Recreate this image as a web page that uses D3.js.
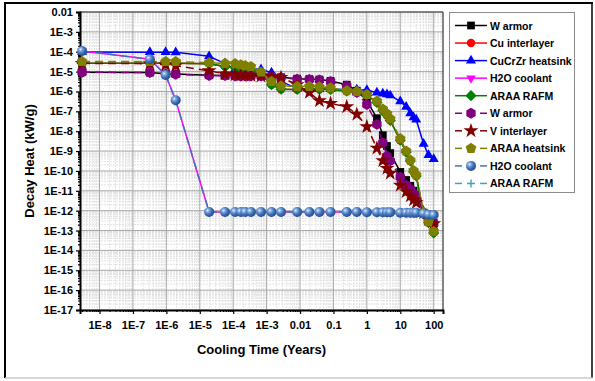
<!DOCTYPE html>
<html>
<head>
<meta charset="utf-8">
<script src="https://cdn.jsdelivr.net/npm/d3@7"></script>
<style>
  body { margin: 0; background: #fff; }
  text { font-family: "Liberation Sans", Arial, sans-serif; font-weight: bold; fill: #000; }
</style>
</head>
<body>
<svg id="chart" width="595" height="381"></svg>
<script>
// Cooling times (years) after shutdown
const timesYears = [3e-9, 3.2e-7, 9.5e-7, 1.9e-6, 1.9e-5, 5.7e-5, 1.14e-4, 1.7e-4, 2.3e-4, 3.4e-4,
  6.8e-4, 1.4e-3, 2.7e-3, 8.2e-3, 1.9e-2, 3.8e-2, 8.2e-2, 0.25, 0.5, 1,
  2, 3, 4, 5, 10, 15, 20, 25, 30, 50, 70, 100];

// Decay heat (kW/g) – first design (solid lines)
const wArmorA = [9.3e-6, 8.9e-6, 7.9e-6, 7.6e-6, 6.6e-6, 6.3e-6, 6.3e-6, 6.3e-6, 6.3e-6, 6.3e-6,
  6.0e-6, 5.8e-6, 5.2e-6, 4.4e-6, 4.2e-6, 4.0e-6, 3.4e-6, 2.2e-6, 1.1e-6, 3.5e-7,
  4.5e-8, 6.3e-9, 1.8e-9, 7.9e-10, 8.9e-11, 3.5e-11, 1.8e-11, 1.0e-11, 6.3e-12, 7.9e-13, 4.0e-13, 2.4e-13];
const cuInterlayer = [2.6e-5, 2.6e-5, 2.6e-5, 2.6e-5, 2.5e-5, 1.8e-5, 1.6e-5, 1.4e-5, 1.3e-5, 1.1e-5,
  7.1e-6, 2.2e-6, 1.3e-6, 1.26e-6, 1.3e-6, 1.3e-6, 1.26e-6, 1.05e-6, 9.3e-7, 6.3e-7,
  2.8e-7, 1.1e-7, 6.3e-8, 3.5e-8, 3.5e-9, 8.9e-10, 3.2e-10, 9.1e-11, 5.6e-11, 7.1e-13, 2.5e-13, 7.6e-14];
const cucrzrHeatsink = [9.8e-5, 9.5e-5, 9.5e-5, 9.3e-5, 5.9e-5, 2.5e-5, 1.3e-5, 1.3e-5, 1.3e-5, 1.4e-5,
  1.3e-5, 8.9e-6, 3.2e-6, 1.4e-6, 1.35e-6, 1.3e-6, 1.3e-6, 1.26e-6, 1.23e-6, 1.17e-6,
  8.7e-7, 7.9e-7, 7.1e-7, 6.3e-7, 3.2e-7, 1.7e-7, 7.9e-8, 5.0e-8, 3.8e-8, 2.3e-9, 6.3e-10, 4.0e-10];
const h2oCoolantA = [1.1e-4, 4.2e-5, 6.8e-6, 3.6e-7, 8.6e-13, 8.6e-13, 8.6e-13, 8.6e-13, 8.6e-13, 8.6e-13,
  8.6e-13, 8.6e-13, 8.6e-13, 8.6e-13, 8.6e-13, 8.6e-13, 8.6e-13, 8.6e-13, 8.6e-13, 8.3e-13,
  8.3e-13, 8.3e-13, 8.3e-13, 8.3e-13, 7.9e-13, 7.9e-13, 7.9e-13, 7.9e-13, 7.9e-13, 7.1e-13, 6.3e-13, 6.0e-13];
const araaRafmA = [2.6e-5, 2.6e-5, 2.6e-5, 2.6e-5, 2.5e-5, 1.8e-5, 1.6e-5, 1.4e-5, 1.3e-5, 1.1e-5,
  7.1e-6, 2.2e-6, 1.3e-6, 1.26e-6, 1.3e-6, 1.3e-6, 1.26e-6, 1.05e-6, 9.3e-7, 6.3e-7,
  2.8e-7, 1.1e-7, 6.3e-8, 3.5e-8, 3.5e-9, 8.9e-10, 3.2e-10, 9.1e-11, 5.6e-11, 7.1e-13, 2.5e-13, 7.6e-14];

// Decay heat (kW/g) – second design (dashed lines)
const wArmorB = [9.3e-6, 8.9e-6, 7.6e-6, 7.2e-6, 6.3e-6, 6.2e-6, 6.0e-6, 6.0e-6, 6.0e-6, 6.0e-6,
  5.9e-6, 5.6e-6, 5.0e-6, 4.2e-6, 4.1e-6, 3.8e-6, 3.2e-6, 1.9e-6, 8.9e-7, 2.2e-7,
  2.2e-8, 2.6e-9, 5.6e-10, 3.2e-10, 4.8e-11, 1.9e-11, 1.2e-11, 6.9e-12, 5.0e-12, 7.9e-13, 4.0e-13, 2.2e-13];
const vInterlayer = [2.6e-5, 2.5e-5, 2.2e-5, 2.0e-5, 1.1e-5, 7.6e-6, 6.8e-6, 6.6e-6, 6.5e-6, 6.3e-6,
  6.0e-6, 5.6e-6, 5.1e-6, 2.2e-6, 8.9e-7, 3.4e-7, 2.5e-7, 1.7e-7, 7.1e-8, 1.7e-8,
  1.4e-9, 3.3e-10, 1.35e-10, 7.6e-11, 1.9e-11, 9.1e-12, 5.5e-12, 3.5e-12, 2.5e-12, 7.9e-13, 3.5e-13, 2.2e-13];
const araaHeatsink = [3.2e-5, 3.2e-5, 3.2e-5, 3.2e-5, 2.8e-5, 2.6e-5, 2.5e-5, 2.2e-5, 2.0e-5, 1.8e-5,
  9.5e-6, 3.2e-6, 1.9e-6, 1.8e-6, 1.8e-6, 1.7e-6, 1.5e-6, 1.1e-6, 1.0e-6, 7.1e-7,
  3.3e-7, 1.3e-7, 7.6e-8, 4.2e-8, 4.2e-9, 1.0e-9, 3.5e-10, 1.05e-10, 6.3e-11, 7.9e-13, 2.8e-13, 8.9e-14];
const h2oCoolantB = [1.1e-4, 4.2e-5, 6.8e-6, 3.6e-7, 8.6e-13, 8.6e-13, 8.6e-13, 8.6e-13, 8.6e-13, 8.6e-13,
  8.6e-13, 8.6e-13, 8.6e-13, 8.6e-13, 8.6e-13, 8.6e-13, 8.6e-13, 8.6e-13, 8.6e-13, 8.3e-13,
  8.3e-13, 8.3e-13, 8.3e-13, 8.3e-13, 7.9e-13, 7.9e-13, 7.9e-13, 7.9e-13, 7.9e-13, 7.1e-13, 6.3e-13, 6.0e-13];
const araaRafmB = [2.6e-5, 2.6e-5, 2.6e-5, 2.6e-5, 2.5e-5, 1.8e-5, 1.6e-5, 1.4e-5, 1.3e-5, 1.1e-5,
  7.1e-6, 2.2e-6, 1.3e-6, 1.26e-6, 1.3e-6, 1.3e-6, 1.26e-6, 1.05e-6, 9.3e-7, 6.3e-7,
  2.8e-7, 1.1e-7, 6.3e-8, 3.5e-8, 3.5e-9, 8.9e-10, 3.2e-10, 9.1e-11, 5.6e-11, 7.1e-13, 2.5e-13, 7.6e-14];

// Axis ticks
const xTickExponents = [-8, -7, -6, -5, -4, -3, -2, -1, 0, 1, 2];
const xTickLabels = ["1E-8", "1E-7", "1E-6", "1E-5", "1E-4", "1E-3", "0.01", "0.1", "1", "10", "100"];
const yTickExponents = [-2, -3, -4, -5, -6, -7, -8, -9, -10, -11, -12, -13, -14, -15, -16, -17];
const yTickLabels = ["0.01", "1E-3", "1E-4", "1E-5", "1E-6", "1E-7", "1E-8", "1E-9", "1E-10",
  "1E-11", "1E-12", "1E-13", "1E-14", "1E-15", "1E-16", "1E-17"];

// Series table (legend order) with line/marker styling
const series = [
  { name: "W armor",          values: wArmorA,        color: "#000000", dashed: false, marker: "square" },
  { name: "Cu interlayer",    values: cuInterlayer,   color: "#ff0000", dashed: false, marker: "circle" },
  { name: "CuCrZr heatsink",  values: cucrzrHeatsink, color: "#0000ff", dashed: false, marker: "triUp" },
  { name: "H2O coolant",      values: h2oCoolantA,    color: "#ff00ff", dashed: false, marker: "triDown" },
  { name: "ARAA RAFM",        values: araaRafmA,      color: "#008000", dashed: false, marker: "diamond" },
  { name: "W armor",          values: wArmorB,        color: "#800080", dashed: true,  marker: "hexagon" },
  { name: "V interlayer",     values: vInterlayer,    color: "#800000", dashed: true,  marker: "star" },
  { name: "ARAA heatsink",    values: araaHeatsink,   color: "#808000", dashed: true,  marker: "pentagon" },
  { name: "H2O coolant",      values: h2oCoolantB,    color: "#3f74b8", dashed: true,  marker: "sphere" },
  { name: "ARAA RAFM",        values: araaRafmB,      color: "#3aa6b9", dashed: true,  marker: "plus" }
];
// painting order on the plot (later = on top)
const drawOrder = [9, 1, 0, 2, 3, 4, 5, 6, 7, 8];

const svg = d3.select("#chart");
const plot = { left: 80, right: 443, top: 12, bottom: 310 };

const x = d3.scaleLog().domain([2.6e-9, 190]).range([plot.left, plot.right]);
const y = d3.scaleLog().domain([1e-17, 1e-2]).range([plot.bottom, plot.top]);

// sphere gradient
const defs = svg.append("defs");
const grad = defs.append("radialGradient").attr("id", "sphereGrad")
  .attr("cx", "35%").attr("cy", "35%").attr("r", "70%");
grad.append("stop").attr("offset", "0%").attr("stop-color", "#eef4ff");
grad.append("stop").attr("offset", "22%").attr("stop-color", "#86aee2");
grad.append("stop").attr("offset", "60%").attr("stop-color", "#3b6db4");
grad.append("stop").attr("offset", "100%").attr("stop-color", "#234c8c");

// outer frame
svg.append("rect").attr("x", 0).attr("y", 0).attr("width", 595).attr("height", 381).attr("fill", "#fff");
svg.append("line").attr("x1", 5).attr("x2", 593).attr("y1", 3).attr("y2", 3).attr("stroke", "#000").attr("stroke-width", 2);
svg.append("line").attr("x1", 5).attr("x2", 5).attr("y1", 2).attr("y2", 378).attr("stroke", "#000").attr("stroke-width", 2);
svg.append("line").attr("x1", 592).attr("x2", 592).attr("y1", 2).attr("y2", 378).attr("stroke", "#000").attr("stroke-width", 1.5);
svg.append("line").attr("x1", 5).attr("x2", 593).attr("y1", 378).attr("y2", 378).attr("stroke", "#c8c8c8").attr("stroke-width", 1.5);

// minor/major tick values
function minorValues(scale) {
  const [d0, d1] = scale.domain();
  const out = [];
  for (let k = Math.floor(Math.log10(d0)) - 1; k <= Math.ceil(Math.log10(d1)); k++) {
    for (let m = 2; m <= 9; m++) {
      const v = m * Math.pow(10, k);
      if (v >= d0 && v <= d1) out.push(v);
    }
  }
  return out;
}
const xMajor = xTickExponents.map(e => Math.pow(10, e));
const yMajor = yTickExponents.map(e => Math.pow(10, e));
const xMinor = minorValues(x);
const yMinor = minorValues(y);

// grid
const grid = svg.append("g");
grid.selectAll(".gxm").data(xMinor).enter().append("line")
  .attr("x1", d => x(d)).attr("x2", d => x(d)).attr("y1", plot.top).attr("y2", plot.bottom)
  .attr("stroke", "#dadada").attr("stroke-width", 0.8).attr("stroke-dasharray", "2,1");
grid.selectAll(".gym").data(yMinor).enter().append("line")
  .attr("y1", d => y(d)).attr("y2", d => y(d)).attr("x1", plot.left).attr("x2", plot.right)
  .attr("stroke", "#dadada").attr("stroke-width", 0.8).attr("stroke-dasharray", "2,1");
grid.selectAll(".gxM").data(xMajor).enter().append("line")
  .attr("x1", d => x(d)).attr("x2", d => x(d)).attr("y1", plot.top).attr("y2", plot.bottom)
  .attr("stroke", "#a8a8a8").attr("stroke-width", 1);
grid.selectAll(".gyM").data(yMajor).enter().append("line")
  .attr("y1", d => y(d)).attr("y2", d => y(d)).attr("x1", plot.left).attr("x2", plot.right)
  .attr("stroke", "#a8a8a8").attr("stroke-width", 1);

// top/right frame
svg.append("line").attr("x1", plot.left).attr("x2", plot.right).attr("y1", plot.top).attr("y2", plot.top)
  .attr("stroke", "#333").attr("stroke-width", 1);
svg.append("line").attr("x1", plot.right).attr("x2", plot.right).attr("y1", plot.top).attr("y2", plot.bottom)
  .attr("stroke", "#333").attr("stroke-width", 1.2);

// axes
const xAxis = svg.append("g").attr("transform", `translate(0,${plot.bottom})`)
  .call(d3.axisBottom(x).tickValues(xMajor).tickSize(4).tickPadding(7)
    .tickFormat((d, i) => xTickLabels[i]));
svg.append("g").attr("transform", `translate(0,${plot.bottom})`)
  .call(d3.axisBottom(x).tickValues(xMinor).tickSize(2).tickFormat(""))
  .call(g => g.select(".domain").remove());
const yAxis = svg.append("g").attr("transform", `translate(${plot.left},0)`)
  .call(d3.axisLeft(y).tickValues(yMajor).tickSize(4).tickPadding(3)
    .tickFormat((d, i) => yTickLabels[i]));
svg.append("g").attr("transform", `translate(${plot.left},0)`)
  .call(d3.axisLeft(y).tickValues(yMinor).tickSize(2).tickFormat(""))
  .call(g => g.select(".domain").remove());

svg.selectAll(".tick line").attr("stroke", "#000").attr("stroke-width", 1.2);
[xAxis, yAxis].forEach(a => {
  a.select(".domain").attr("stroke", "#000").attr("stroke-width", 2);
  a.selectAll("text").style("font-size", "11px").style("font-weight", "bold")
    .style("font-family", '"Liberation Sans", Arial, sans-serif').attr("fill", "#000");
});

// axis titles
svg.append("text").attr("x", (plot.left + plot.right) / 2).attr("y", 354)
  .attr("text-anchor", "middle").style("font-size", "13px").text("Cooling Time (Years)");
svg.append("text").attr("transform", `translate(34,${(plot.top + plot.bottom) / 2}) rotate(-90)`)
  .attr("text-anchor", "middle").style("font-size", "13px").text("Decay Heat (kW/g)");

// marker shapes
function polygon(n, r, rot) {
  const pts = d3.range(n).map(i => {
    const a = rot + i * 2 * Math.PI / n;
    return [r * Math.cos(a), r * Math.sin(a)];
  });
  return "M" + pts.map(p => p[0].toFixed(2) + "," + p[1].toFixed(2)).join("L") + "Z";
}
function drawMarker(g, s, cx, cy) {
  const t = `translate(${cx},${cy})`;
  switch (s.marker) {
    case "square":
      g.append("path").attr("d", d3.symbol(d3.symbolSquare, 60)()).attr("transform", t).attr("fill", s.color);
      break;
    case "circle":
      g.append("circle").attr("cx", cx).attr("cy", cy).attr("r", 4.2).attr("fill", s.color);
      break;
    case "triUp":
      g.append("path").attr("d", d3.symbol(d3.symbolTriangle, 44)()).attr("transform", t).attr("fill", s.color);
      break;
    case "triDown":
      g.append("path").attr("d", d3.symbol(d3.symbolTriangle, 40)()).attr("transform", t + " rotate(180)").attr("fill", s.color);
      break;
    case "diamond":
      g.append("path").attr("d", polygon(4, 5.6, 0)).attr("transform", t).attr("fill", s.color);
      break;
    case "hexagon":
      g.append("path").attr("d", polygon(6, 5.4, Math.PI / 6)).attr("transform", t).attr("fill", s.color);
      break;
    case "star":
      g.append("path").attr("d", d3.symbol(d3.symbolStar, 70)()).attr("transform", t).attr("fill", s.color);
      break;
    case "pentagon":
      g.append("path").attr("d", polygon(5, 5.6, -Math.PI / 2)).attr("transform", t).attr("fill", s.color);
      break;
    case "sphere":
      g.append("circle").attr("cx", cx).attr("cy", cy).attr("r", 5).attr("fill", "url(#sphereGrad)");
      break;
    case "plus":
      g.append("path").attr("d", "M-4,0H4M0,-4V4").attr("transform", t)
        .attr("stroke", s.color).attr("stroke-width", 1.4).attr("fill", "none");
      break;
  }
}

// data lines and markers
const line = d3.line().x(d => x(d.t)).y(d => y(d.v));
const marks = svg.append("g");
drawOrder.forEach(idx => {
  const s = series[idx];
  const pts = timesYears.map((t, i) => ({ t, v: s.values[i] }));
  const g = marks.append("g");
  g.append("path").datum(pts).attr("d", line).attr("fill", "none")
    .attr("stroke", s.color).attr("stroke-width", 1.5)
    .attr("stroke-dasharray", s.dashed ? "8,5" : null);
  pts.forEach(p => drawMarker(g, s, x(p.t), y(p.v)));
});

// legend
const legend = svg.append("g");
legend.append("rect").attr("x", 449.5).attr("y", 12.5).attr("width", 125).attr("height", 180)
  .attr("fill", "#fff").attr("stroke", "#8c8c8c").attr("stroke-width", 1);
series.forEach((s, i) => {
  const cy = 25.5 + i * 17.55;
  const g = legend.append("g");
  if (s.dashed) {
    g.append("line").attr("x1", 455).attr("x2", 462).attr("y1", cy).attr("y2", cy)
      .attr("stroke", s.color).attr("stroke-width", 1.5);
    g.append("line").attr("x1", 480).attr("x2", 487).attr("y1", cy).attr("y2", cy)
      .attr("stroke", s.color).attr("stroke-width", 1.5);
  } else {
    g.append("line").attr("x1", 455).attr("x2", 487).attr("y1", cy).attr("y2", cy)
      .attr("stroke", s.color).attr("stroke-width", 1.5);
  }
  drawMarker(g, s, 471, cy);
  g.append("text").attr("x", 490).attr("y", cy + 4).style("font-size", "10.5px").text(s.name);
});
</script>
</body>
</html>
